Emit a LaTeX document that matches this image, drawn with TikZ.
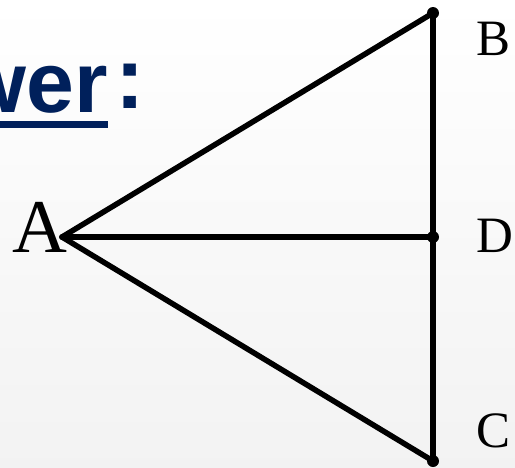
\documentclass[tikz,border=0pt]{standalone}
\usepackage{fontspec}
\setmainfont{Liberation Serif}
\newfontfamily\headfont{Liberation Sans}
\definecolor{navy}{HTML}{00205B}
\tikzset{
  edge/.style={line width=5.5pt, line cap=round, black},
  pt/.style={circle, fill=black, inner sep=0pt, minimum size=12pt},
  lbl/.style={inner sep=0pt, font=\fontsize{51}{51}\selectfont},
}
\begin{document}
\begin{tikzpicture}[x=1pt,y=-1pt]
\useasboundingbox (0,0) rectangle (515,467);
\clip (0,0) rectangle (515,467);
\shade[top color=white, bottom color=black!5] (0,0) rectangle (515,467);
% heading fragment
\node[inner sep=0pt, anchor=base east, font=\headfont\bfseries\fontsize{86}{86}\selectfont, text=navy] (hw) at (108,112) {wer};
\fill[navy] (-2,121) rectangle (108,127.5);
\node[inner sep=0pt, anchor=base west, font=\headfont\bfseries\fontsize{88}{88}\selectfont, text=navy] (hc) at (115,108) {:};
% points
\coordinate (A) at (62,237);
\coordinate (B) at (433,13);
\coordinate (D) at (433,237);
\coordinate (C) at (433,461);
% labels
\node[lbl, anchor=base east, font=\fontsize{76}{76}\selectfont] (lA) at (68,252) {A};
\node[lbl, anchor=base west] (lB) at (476,55) {B};
\node[lbl, anchor=base west] (lD) at (476,252) {D};
\node[lbl, anchor=base west] (lC) at (476,447) {C};
% edges
\draw[edge] (A) -- (B);
\draw[edge] (A) -- (D);
\draw[edge] (A) -- (C);
\draw[edge] (B) -- (C);
\node[pt] (pB) at (B) {};
\node[pt] (pD) at (D) {};
\node[pt] (pC) at (C) {};
\end{tikzpicture}
\end{document}
